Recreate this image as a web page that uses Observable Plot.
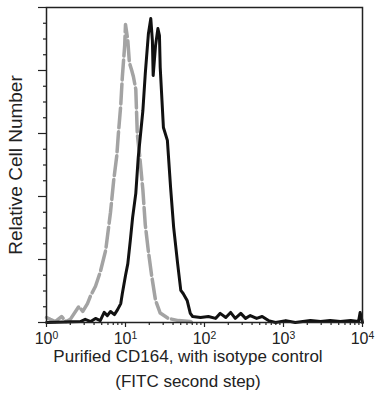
<!DOCTYPE html>
<html><head><meta charset="utf-8">
<script src="https://cdn.jsdelivr.net/npm/d3@7"></script>
<script src="https://cdn.jsdelivr.net/npm/@observablehq/plot@0.6"></script>
<style>
body{margin:0;background:#fff;font-family:"Liberation Sans",Arial,sans-serif;}
#chart svg{display:block}
#cap{width:376px;text-align:center;font-size:17px;color:#222;margin-top:-1px}
#cap div{line-height:20px;height:25px}
</style></head><body><div id="chart"></div><div id="cap"><div>Purified CD164, with isotype control</div><div>(FITC second step)</div></div>
<script>
// Isotype control (gray dashed): fluorescence and relative cell number
const isotypeX = [1, 1.12, 1.29, 1.55, 1.78, 2.0, 2.57, 2.88, 3.3, 3.63, 4.17, 4.79, 5.62, 6.46, 7.08, 7.76, 8.13, 8.71, 9.12, 9.77, 10, 10.7, 11.2, 12.0, 12.6, 13.5, 14.1, 14.5, 15.1, 16.6, 17.8, 19.5, 21.4, 24.0, 27.5, 34.7, 46.8, 66.1, 70.8];
const isotypeY = [1.6, 1.0, 0.3, 1.9, 0.3, 1.0, 5.1, 3.5, 6.0, 8.6, 11.5, 16, 23, 35, 45, 53, 60, 69, 78, 88, 94.6, 89.5, 82.5, 80, 78, 74, 60, 57, 53, 42, 31, 22.5, 15, 7, 3, 1.3, 0.6, 0.3, 0];
// Purified CD164 (black solid)
const cd164X = [1, 2.69, 3.09, 3.63, 4.17, 4.79, 5.37, 5.89, 6.46, 7.24, 7.94, 8.71, 9.12, 10, 10.7, 11.5, 12.3, 13.5, 14.5, 16.6, 17.8, 19.5, 20.9, 21.9, 22.4, 24.0, 25.7, 26.9, 27.5, 30.2, 33.9, 37.2, 40.7, 45.7, 50.1, 53.7, 60.3, 66.1, 70.8, 89.1, 112, 138, 158, 186, 214, 245, 288, 331, 380, 457, 537, 646, 794, 1070, 1410, 2190, 2950, 3890, 5250, 7080, 8910, 9330, 10000];
const cd164Y = [0, 0.3, 1, 0.3, 1.3, 0.6, 3.2, 2.2, 3.5, 2.5, 4.1, 6.0, 9.2, 14.9, 18.7, 26.0, 33.3, 41.0, 52.4, 67.3, 79.0, 91.7, 96.5, 89.5, 78.4, 87.9, 93.3, 91.1, 81.0, 61.9, 57.8, 42.9, 30.2, 18.7, 10.2, 9.2, 7.0, 2.9, 1.9, 1.6, 1.9, 1.3, 2.9, 1.6, 3.2, 1.3, 2.9, 1.3, 2.2, 1.3, 1.9, 0.6, 0, 0.6, 0, 0.6, 0.3, 0.6, 0.3, 0.6, 0.3, 3.2, 0];

const xMajorTicks = [1, 10, 100, 1000, 10000];
const xMajorExponents = ["0", "1", "2", "3", "4"];
const xMinorTicks = [2,3,4,5,6,7,8,9,20,30,40,50,60,70,80,90,200,300,400,500,600,700,800,900,2000,3000,4000,5000,6000,7000,8000,9000];
const yMajorTicks = [0, 20, 40, 60, 80, 100];
const yMinorTicks = [5,10,15,25,30,35,45,50,55,65,70,75,85,90,95];
const yLabel = "Relative Cell Number";

const isotype = isotypeX.map((x, i) => ({x, y: isotypeY[i]}));
const cd164 = cd164X.map((x, i) => ({x, y: cd164Y[i]}));
const ink = "#222";

const svg = Plot.plot({
  width: 387, height: 348,
  marginLeft: 46, marginRight: 25, marginTop: 7, marginBottom: 26,
  style: {fontFamily: '"Liberation Sans", Arial, sans-serif', fontSize: "16px", color: ink, background: "#fff"},
  x: {type: "log", domain: [1, 10000]},
  y: {domain: [0, 100]},
  marks: [
    Plot.line(isotype, {x: "x", y: "y", stroke: "#a3a3a3", strokeWidth: 3.5, strokeDasharray: "20,4"}),
    Plot.line(cd164, {x: "x", y: "y", stroke: "#111", strokeWidth: 3}),
    Plot.frame({stroke: ink, strokeWidth: 1.5}),
    Plot.axisX({ticks: xMinorTicks, tickSize: 3, tickFormat: () => "", label: null, strokeWidth: 1.2}),
    Plot.axisX({ticks: xMajorTicks, tickSize: 5, tickPadding: 5, label: null, strokeWidth: 1.2,
      tickFormat: d => "10^" + xMajorExponents[xMajorTicks.indexOf(d)]}),
    Plot.axisY({ticks: yMinorTicks, tickSize: 3, tickFormat: () => "", label: null, strokeWidth: 1.2}),
    Plot.axisY({ticks: yMajorTicks, tickSize: 8, tickFormat: () => "", label: null, strokeWidth: 1.2}),
    Plot.text([yLabel], {frameAnchor: "left", textAnchor: "middle", rotate: -90, dx: -31, fontSize: 19, fill: ink, text: d => d})
  ]
});

d3.select(svg).selectAll("text").each(function() {
  const t = this.textContent;
  const m = /^10\^(\d)$/.exec(t);
  if (m) {
    const sel = d3.select(this);
    sel.text("");
    sel.append("tspan").text("10");
    sel.append("tspan").attr("dy", "-0.5em").attr("font-size", "0.65em").text(m[1]);
  }
});
document.getElementById("chart").append(svg);
</script></body></html>
